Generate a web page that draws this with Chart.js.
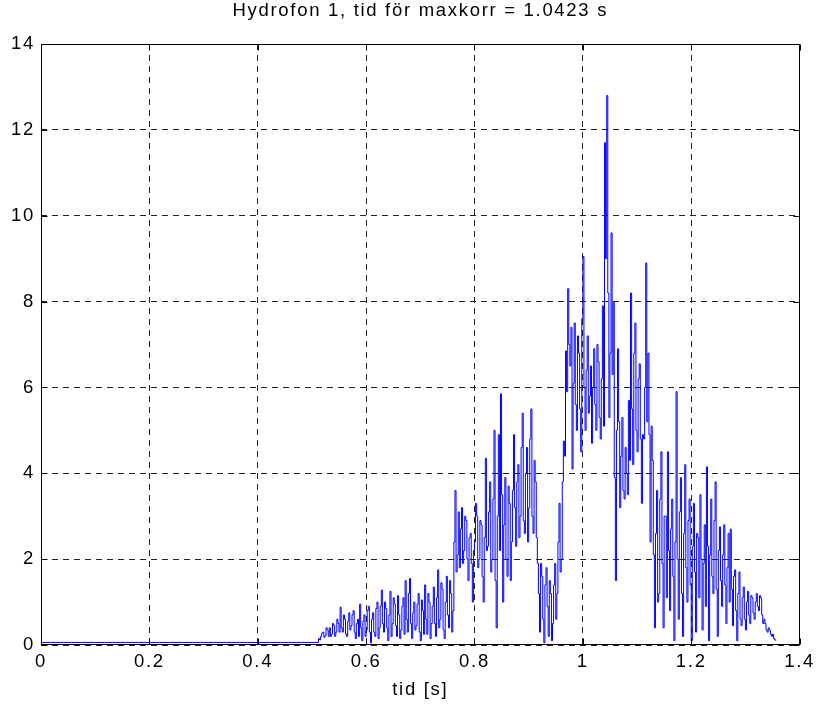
<!DOCTYPE html>
<html>
<head>
<meta charset="utf-8">
<title>Hydrofon 1</title>
<script src="https://cdn.jsdelivr.net/npm/chart.js@4.4.1/dist/chart.umd.min.js"></script>
<style>
  html, body { margin: 0; padding: 0; background: #fff; }
  canvas { display: block; }
</style>
</head>
<body>
<canvas id="corrChart" width="821" height="710"></canvas>
<script>
// Axis ticks
const xTicks = [0, 0.2, 0.4, 0.6, 0.8, 1, 1.2, 1.4];
const yTicks = [0, 2, 4, 6, 8, 10, 12, 14];

const titleText = 'Hydrofon 1, tid för maxkorr = 1.0423 s';
const xLabel = 'tid [s]';

// Flat level before the signal arrives
const baseLevel = 0.06;

// Correlation magnitude, sampled every 2 ms starting at 0.512 s
const sampleStart = 0.512;
const sampleStep = 0.002;
const corrValues = [
    0.15, 0.12, 0.2, 0.28, 0.3, 0.18, 0.22, 0.4, 0.35, 0.2,
    0.4, 0.2, 0.25, 0.5, 0.45, 0.2, 0.3, 0.6, 0.5, 0.3,
    0.88, 0.4, 0.3, 0.7, 0.6, 0.25, 0.2, 0.55, 0.75, 0.35,
    0.45, 0.7, 0.8, 0.3, 0.15, 0.5, 0.6, 0.2, 0.95, 0.4,
    0.1, 0.55, 0.7, 0.2, 0.35, 0.8, 0.9, 0.3, 0.05, 0.6,
    0.75, 0.3, 0.2, 0.85, 1.0, 0.15, 0.4, 0.9, 1.28, 0.5,
    0.3, 1.0, 0.85, 0.4, 0.1, 0.7, 1.25, 0.2, 0.5, 1.1,
    0.95, 0.45, 0.2, 1.15, 0.7, 0.15, 0.35, 0.9, 1.1, 0.25,
    1.5, 0.6, 0.3, 1.2, 1.55, 0.5, 0.15, 0.75, 1.0, 0.35,
    0.45, 0.95, 1.2, 0.3, 0.1, 1.05, 0.8, 0.25, 1.4, 0.6,
    0.25, 1.2, 1.0, 0.15, 0.5, 0.9, 1.35, 0.5, 0.2, 1.1,
    1.75, 0.4, 0.6, 1.45, 1.3, 0.35, 0.15, 1.0, 1.6, 0.7,
    0.4, 1.5, 1.2, 0.3, 0.8, 2.4, 3.6, 1.7, 2.1, 3.1,
    1.8, 2.7, 3.2, 1.9, 2.2, 3.0, 2.9, 2.0, 1.5, 2.5,
    2.6, 1.9, 1.0, 2.2, 2.4, 3.3, 3.0, 1.8, 2.0, 2.9,
    2.8, 1.6, 1.0, 2.5, 4.35, 2.2, 2.3, 3.1, 3.8, 1.7,
    2.0, 3.4, 5.0, 1.5, 0.4, 3.0, 4.9, 2.2, 5.85, 3.5,
    1.0, 2.8, 3.9, 2.0, 1.6, 3.7, 3.3, 1.5, 2.4, 3.6,
    4.9, 3.2, 2.3, 3.8, 4.2, 2.5, 3.0, 4.6, 5.4, 2.9,
    2.6, 4.0, 4.6, 2.4, 3.2, 4.8, 5.5, 3.0, 2.6, 4.3,
    3.8, 2.5, 1.9, 1.2, 0.3, 1.9, 1.6, 0.6, 0.05, 1.4,
    1.8, 0.9, 0.2, 1.5, 1.2, 0.1, 0.5, 1.4, 1.9, 0.6,
    1.2, 2.4, 3.3, 1.7, 2.0, 3.8, 4.75, 4.4, 6.85, 5.9,
    8.3, 7.0, 6.5, 7.4, 4.1, 6.1, 7.5, 5.6, 5.0, 7.2,
    6.8, 5.5, 4.5, 7.6, 9.05, 6.0, 5.0, 6.4, 7.2, 5.4,
    5.8, 6.5, 4.7, 6.0, 6.9, 5.6, 5.0, 7.0, 6.6, 5.3,
    4.8, 6.2, 7.9, 5.1, 11.7, 9.0, 12.8, 8.2, 5.3, 6.8,
    9.6, 6.3, 8.0, 3.9, 1.5, 5.0, 6.9, 5.2, 3.2, 4.4,
    5.3, 3.6, 3.4, 4.6, 4.0, 3.5, 5.7, 4.3, 8.2, 5.5,
    4.2, 6.8, 7.5, 5.0, 4.5, 6.2, 6.55, 4.8, 3.3, 4.9,
    4.8, 6.0, 8.9, 5.2, 6.8, 4.9, 2.4, 5.1, 4.3, 2.1,
    0.4, 2.6, 3.6, 1.0, 1.2, 3.4, 4.5, 1.9, 0.4, 3.0,
    3.0, 1.1, 4.5, 2.2, 0.8, 2.7, 3.4, 1.6, 0.1, 2.4,
    5.9, 2.0, 0.6, 3.1, 3.9, 1.2, 0.2, 2.6, 4.2, 1.8,
    1.0, 2.9, 3.4, 1.4, 0.1, 2.3, 3.3, 1.7, 0.3, 2.6,
    2.5, 1.1, 3.5, 2.0, 0.35, 1.9, 2.8, 0.9, 4.15, 2.3,
    0.1, 2.1, 3.4, 1.6, 1.2, 2.9, 3.8, 1.3, 0.2, 2.2,
    2.75, 1.5, 0.9, 2.1, 2.8, 1.4, 0.5, 1.8, 2.6, 1.0,
    2.7, 1.3, 0.45, 1.6, 1.75, 0.8, 0.1, 1.2, 1.7, 0.6,
    0.45, 1.1, 1.35, 0.6, 0.35, 1.0, 1.25, 0.7, 0.5, 1.15,
    1.1, 0.75, 0.6, 1.0, 1.2, 0.9, 0.8, 1.15, 1.1, 0.7,
    0.5, 0.6, 0.5, 0.35, 0.3, 0.4, 0.35, 0.25, 0.2, 0.25,
    0.15, 0.12, 0.1
];

const FONT = "'Liberation Sans', Arial, Helvetica, sans-serif";
const FONT_SIZE = 18.5;
const SPACING = '1.7px';

const points = [{ x: 0, y: baseLevel }].concat(
    corrValues.map((v, i) => ({ x: sampleStart + i * sampleStep, y: v }))
);

// Wider letter spacing for all text, like the old plot renderer
const textSpacing = {
    id: 'textSpacing',
    beforeLayout(chart) { chart.ctx.letterSpacing = SPACING; },
    beforeDraw(chart) { chart.ctx.letterSpacing = SPACING; }
};

const whiteBg = {
    id: 'whiteBg',
    beforeDraw(chart) {
        const ctx = chart.ctx;
        ctx.save();
        ctx.fillStyle = '#fff';
        ctx.fillRect(0, 0, chart.width, chart.height);
        ctx.restore();
    }
};

// Box around the axes with short inward ticks, and the title centred over the plot
const axesBox = {
    id: 'axesBox',
    afterDraw(chart) {
        const { ctx, chartArea: a, scales: { x, y } } = chart;
        const L = Math.round(a.left) + 0.5, R = Math.round(a.right) - 0.5;
        const T = Math.round(a.top) + 0.5, B = Math.round(a.bottom) - 0.5;
        const len = 6;
        ctx.save();
        ctx.strokeStyle = '#000';
        ctx.lineWidth = 1;
        ctx.strokeRect(L, T, R - L, B - T);
        ctx.beginPath();
        xTicks.forEach(v => {
            const px = Math.round(x.getPixelForValue(v)) + 0.5;
            ctx.moveTo(px, B); ctx.lineTo(px, B - len);
            ctx.moveTo(px, T); ctx.lineTo(px, T + len);
        });
        yTicks.forEach(v => {
            const py = Math.round(y.getPixelForValue(v)) + 0.5;
            ctx.moveTo(L, py); ctx.lineTo(L + len, py);
            ctx.moveTo(R, py); ctx.lineTo(R - len, py);
        });
        ctx.stroke();

        ctx.fillStyle = '#000';
        ctx.font = FONT_SIZE + 'px ' + FONT;
        ctx.letterSpacing = SPACING;
        ctx.textAlign = 'center';
        ctx.textBaseline = 'middle';
        ctx.fillText(titleText, (a.left + a.right) / 2, 11);
        ctx.restore();
    }
};

new Chart(document.getElementById('corrChart'), {
    type: 'line',
    data: {
        datasets: [{
            data: points,
            borderColor: '#0000ff',
            borderWidth: 1,
            pointRadius: 0,
            stepped: 'before',
            fill: false
        }]
    },
    options: {
        responsive: false,
        animation: false,
        devicePixelRatio: 1,
        layout: { padding: { left: 0, right: 20, top: 44, bottom: 0 } },
        plugins: {
            legend: { display: false },
            tooltip: { enabled: false },
            title: { display: false }
        },
        scales: {
            x: {
                type: 'linear',
                min: 0,
                max: 1.4,
                afterBuildTicks: s => { s.ticks = xTicks.map(v => ({ value: v })); },
                afterFit: s => { s.height = 65; },
                ticks: {
                    color: '#000',
                    padding: 6,
                    maxRotation: 0,
                    font: { family: FONT, size: FONT_SIZE },
                    callback: v => String(v)
                },
                grid: { color: '#222', lineWidth: 1, drawTicks: false },
                border: { display: false, dash: [6, 5] },
                title: {
                    display: true,
                    text: xLabel,
                    color: '#000',
                    font: { family: FONT, size: FONT_SIZE },
                    padding: { top: 0, bottom: 9 }
                }
            },
            y: {
                type: 'linear',
                min: 0,
                max: 14,
                afterBuildTicks: s => { s.ticks = yTicks.map(v => ({ value: v })); },
                afterFit: s => { s.width = 41; },
                ticks: {
                    color: '#000',
                    padding: 6,
                    font: { family: FONT, size: FONT_SIZE },
                    callback: v => String(v)
                },
                grid: { color: '#222', lineWidth: 1, drawTicks: false },
                border: { display: false, dash: [6, 5] }
            }
        }
    },
    plugins: [textSpacing, whiteBg, axesBox]
});
</script>
</body>
</html>
